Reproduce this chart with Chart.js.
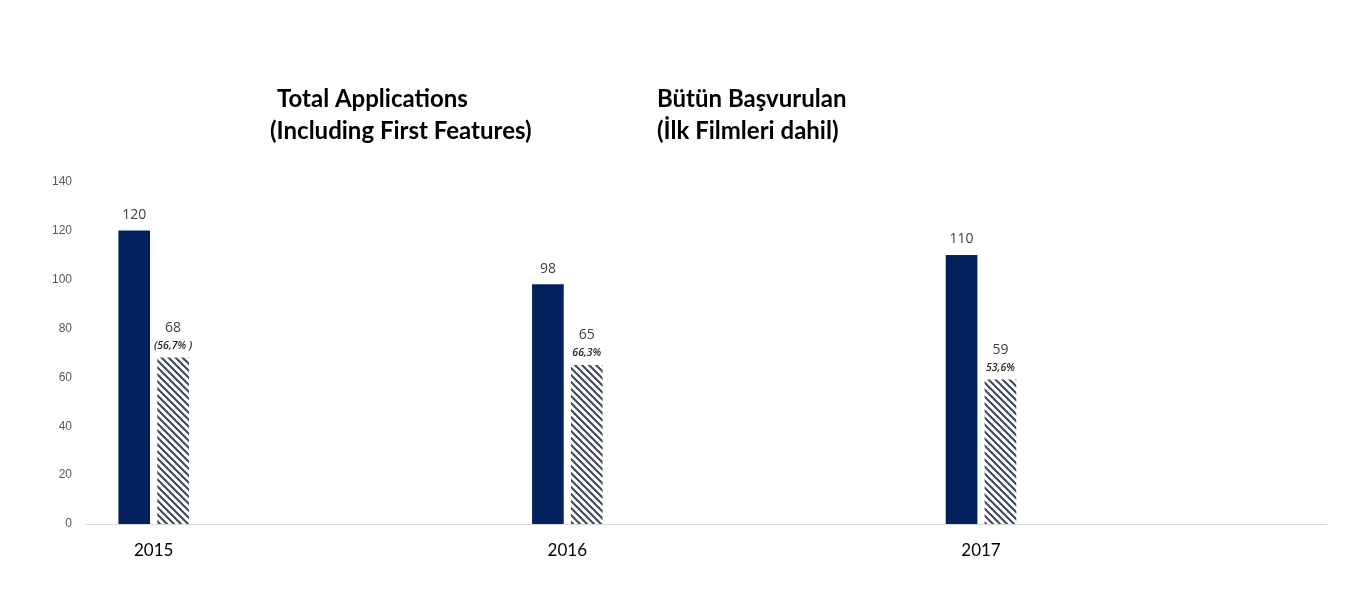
<!DOCTYPE html>
<html>
<head>
<meta charset="utf-8">
<script src="https://cdn.jsdelivr.net/npm/chart.js@4/dist/chart.umd.min.js"></script>
<style>
    body { margin: 0; background: #ffffff; }
    #wrap { width: 1355px; height: 616px; }
</style>
</head>
<body>
<div id="wrap"><canvas id="applicationsChart" width="1355" height="616"></canvas></div>
<script>
// Chart values
const years = ["2015", "2016", "2017"];
const totalApplications = [120, 98, 110];
const firstFeatures = [68, 65, 59];
const firstFeatureShares = ["(56,7% )", "66,3%", "53,6%"];

const titleEnglish = ["Total Applications", "(Including First Features)"];
const titleTurkish = ["Bütün Başvurulan", "(İlk Filmleri dahil)"];

// bars sit at the left of each year band (as in the original sheet)
const LABEL_OFFSET = 0.166;
const BAR_SHIFT = 0.047;

function makeHatch() {
    const size = 7;
    const c = document.createElement("canvas");
    c.width = size;
    c.height = size;
    const g = c.getContext("2d");
    g.fillStyle = "#ffffff";
    g.fillRect(0, 0, size, size);
    g.strokeStyle = "#3b475a";
    g.lineWidth = 2;
    g.beginPath();
    g.moveTo(-1, -1); g.lineTo(size + 1, size + 1);
    g.moveTo(-1, size - 1); g.lineTo(1, size + 1);
    g.moveTo(size - 1, -1); g.lineTo(size + 1, 1);
    g.stroke();
    return g.createPattern(c, "repeat");
}

const ctx = document.getElementById("applicationsChart").getContext("2d");
const hatch = makeHatch();

// draws the two-part heading and the labels over the bars
const annotations = {
    id: "annotations",
    afterDatasetsDraw(chart) {
        const c = chart.ctx;
        c.save();

        c.fillStyle = "#000000";
        c.font = "bold 24px Lato";
        c.textBaseline = "middle";
        c.textAlign = "left";
        c.fillText(titleEnglish[0], 277, 99);
        c.fillText(titleEnglish[1], 270, 131);
        c.fillText(titleTurkish[0], 657, 99);
        c.fillText(titleTurkish[1], 657, 131);

        c.textAlign = "center";
        c.textBaseline = "middle";

        const totals = chart.getDatasetMeta(0).data;
        totals.forEach((bar, i) => {
            c.fillStyle = "#404040";
            c.font = "14px 'Open Sans'";
            c.fillText(String(totalApplications[i]), bar.x, bar.y - 16);
        });

        const firsts = chart.getDatasetMeta(1).data;
        firsts.forEach((bar, i) => {
            c.fillStyle = "#404040";
            c.font = "14px 'Open Sans'";
            c.fillText(String(firstFeatures[i]), bar.x, bar.y - 30);
            c.fillStyle = "#262626";
            c.font = "italic 600 10.5px 'Open Sans'";
            c.fillText(firstFeatureShares[i], bar.x, bar.y - 12);
        });

        c.restore();
    }
};

new Chart(ctx, {
    type: "bar",
    data: {
        datasets: [
            {
                label: "Total Applications",
                data: totalApplications.map((v, i) => ({ x: i + LABEL_OFFSET - BAR_SHIFT, y: v })),
                backgroundColor: "#03215c",
                barThickness: 31,
                grouped: false
            },
            {
                label: "First Features",
                data: firstFeatures.map((v, i) => ({ x: i + LABEL_OFFSET + BAR_SHIFT, y: v })),
                backgroundColor: hatch,
                barThickness: 31,
                grouped: false
            }
        ]
    },
    options: {
        responsive: false,
        devicePixelRatio: 1,
        animation: false,
        layout: { padding: { top: 182, right: 29, bottom: 0, left: 0 } },
        plugins: {
            legend: { display: false },
            tooltip: { enabled: false }
        },
        scales: {
            x: {
                type: "linear",
                min: 0,
                max: 3,
                offset: false,
                grid: { display: false, drawTicks: false, offset: false },
                border: { display: true, color: "#d9d9d9", width: 1 },
                afterFit: scale => { scale.height = 92; },
                afterBuildTicks: scale => {
                    scale.ticks = years.map((_, i) => ({ value: i + LABEL_OFFSET }));
                },
                ticks: {
                    autoSkip: false,
                    maxRotation: 0,
                    padding: 16,
                    color: "#000000",
                    font: { family: "Lato", size: 17 },
                    callback: (value, index) => years[index]
                }
            },
            y: {
                min: 0,
                max: 140,
                grid: { display: false, drawTicks: false },
                border: { display: false },
                afterFit: scale => { scale.width = 85; },
                ticks: {
                    stepSize: 20,
                    padding: 13,
                    color: "#595959",
                    font: { family: "'Liberation Sans'", size: 12 }
                }
            }
        }
    },
    plugins: [annotations]
});
</script>
</body>
</html>
